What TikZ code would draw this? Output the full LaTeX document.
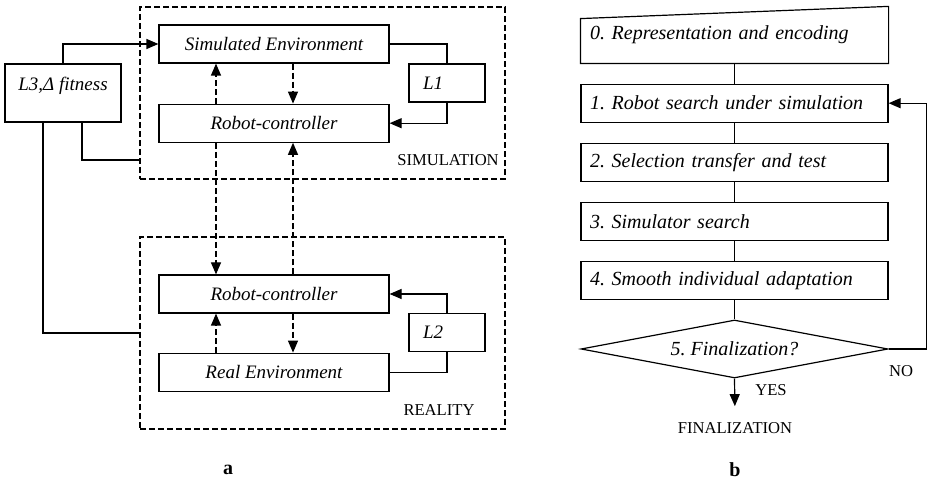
\documentclass[tikz,border=0pt]{standalone}
\usepackage{fontspec}
\setmainfont{Liberation Serif}
\usetikzlibrary{shapes.geometric, arrows.meta, positioning}
\frenchspacing

\begin{document}
\begin{tikzpicture}[x=0.5pt, y=-0.5pt, line width=0.6pt,
		blk/.style={draw, minimum width=115pt, minimum height=19pt, inner sep=0pt, font=\fontsize{9.5}{11}\selectfont\itshape},
		lbox/.style={draw, minimum width=38pt, minimum height=19pt, inner sep=0pt, text width=24pt, align=left, font=\fontsize{9.5}{11}\selectfont\itshape},
		area/.style={draw, dash pattern=on 3pt off 1.5pt, minimum width=182.5pt, inner sep=0pt},
		stepbox/.style={draw, minimum width=153.5pt, minimum height=19pt, inner xsep=4.5pt, inner ysep=0pt, text width=144.5pt, align=left, font=\fontsize{10}{12}\selectfont\itshape},
		tag/.style={font=\fontsize{8.3}{10}\selectfont},
		arr/.style={-{Triangle[length=6pt, width=5pt]}},
		darr/.style={arr, dash pattern=on 3pt off 1.5pt}]

		\useasboundingbox (0,0) rectangle (927,480);

		\node[area, minimum height=86pt] (simbox) at (322.5,93) {};
		\node[area, minimum height=96pt] (realbox) at (322.5,333) {};
		\node[tag] (simtag) at (448,160) {SIMULATION};
		\node[tag] (realtag) at (439,410) {REALITY};

		\node[blk] (simenv) at (274,44) {Simulated Environment};
		\node[blk] (simrc) [below = 20pt of simenv] {Robot-controller};
		\node[blk] (realrc) at (274,294) {Robot-controller};
		\node[blk] (realenv) [below = 19.5pt of realrc] {Real Environment};
		\node[lbox] (l1) at (447,83) {L1};
		\node[lbox] (l2) at (447,332.5) {L2};
		\node[draw, minimum width=58pt, minimum height=29pt, inner sep=0pt, text depth=9pt, font=\fontsize{9.5}{11}\selectfont\itshape] (l3) at (63,93) {L3,Δ fitness};

		\coordinate (ua) at (216,0);
		\coordinate (ub) at (293,0);
		\coordinate (simin) at (140,160);

		\draw[arr] (l3.north) |- (simenv.west);
		\draw ([xshift=9.5pt]l3.south) |- (simin);
		\draw ([xshift=-10pt]l3.south) |- (realbox.west);
		\draw (simenv.east) -| (l1.north);
		\draw[arr] (l1.south) |- (simrc.east);
		\draw (realenv.east) -| (l2.south);
		\draw[arr] (l2.north) |- (realrc.east);

		\draw[darr] (simrc.north -| ua) -- (simenv.south -| ua);
		\draw[darr] (simenv.south -| ub) -- (simrc.north -| ub);
		\draw[darr] (simrc.south -| ua) -- (realrc.north -| ua);
		\draw[darr] (realrc.north -| ub) -- (simrc.south -| ub);
		\draw[darr] (realrc.south -| ub) -- (realenv.north -| ub);
		\draw[darr] (realenv.north -| ua) -- (realrc.south -| ua);

		\node[stepbox, draw=none, minimum height=28pt] (step0) at (734.5,35) {0. Representation and encoding};
		\draw (step0.south west) -- ++(0,-45) -- (step0.north east) -- (step0.south east) -- cycle;
		\node[stepbox] (step1) [below = 10pt of step0] {1. Robot search under simulation};
		\node[stepbox] (step2) [below = 10pt of step1] {2. Selection transfer and test};
		\node[stepbox] (step3) [below = 10pt of step2] {3. Simulator search};
		\node[stepbox] (step4) [below = 10pt of step3] {4. Smooth individual adaptation};
		\node[draw, shape=diamond, aspect=5.3, minimum width=153.5pt, minimum height=29pt, inner sep=0pt, font=\fontsize{10}{12}\selectfont\itshape] (decide) [below = 9.5pt of step4] {5. Finalization?};
		\node[tag] (fin) at (735,428) {FINALIZATION};
		\node[tag] (yes) at (771,390) {YES};
		\node[tag] (no) at (901,371) {NO};

		\draw (step0.south) -- (step1.north);
		\draw (step1.south) -- (step2.north);
		\draw (step2.south) -- (step3.north);
		\draw (step3.south) -- (step4.north);
		\draw (step4.south) -- (decide.north);
		\draw[arr] (decide.east) -- ++(38,0) |- (step1.east);
		\draw[arr, shorten >=4.5pt] (decide.south) -- (fin.north);

		\node[font=\fontsize{10}{12}\selectfont\bfseries] (capa) at (228,470) {a};
		\node[font=\fontsize{10}{12}\selectfont\bfseries] (capb) at (735,470) {b};
	\end{tikzpicture}
\end{document}
